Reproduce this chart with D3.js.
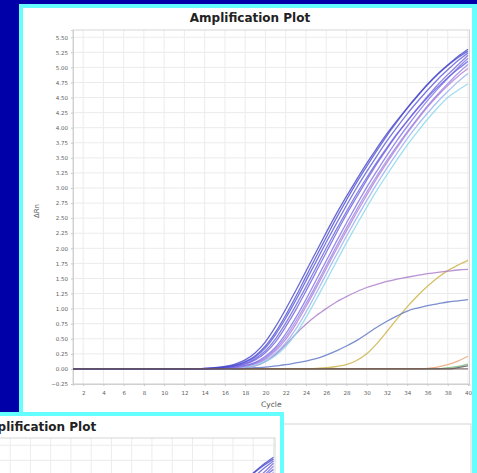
<!DOCTYPE html>
<html>
<head>
<meta charset="utf-8">
<script src="https://cdn.jsdelivr.net/npm/d3@7"></script>
<style>
  html, body { margin: 0; padding: 0; background: #0000a8; overflow: hidden; }
  text { font-family: "DejaVu Sans", Arial, sans-serif; }
</style>
</head>
<body>
<svg id="chart" width="477" height="473"></svg>
<script>
// cycle numbers and tick labels
var cycles = [1,2,3,4,5,6,7,8,9,10,11,12,13,14,15,16,17,18,19,20,
              21,22,23,24,25,26,27,28,29,30,31,32,33,34,35,36,37,38,39,40];
var xTicks = [2,4,6,8,10,12,14,16,18,20,22,24,26,28,30,32,34,36,38,40];
var yTicks = [-0.25,0,0.25,0.5,0.75,1,1.25,1.5,1.75,2,2.25,2.5,2.75,3,3.25,
              3.5,3.75,4,4.25,4.5,4.75,5,5.25,5.5];

// delta Rn per cycle
var wellA = [0,0,0,0,0,0,0,0,0,0,0,0,0,0.01,0.02,0.04,0.08,0.15,0.27,0.45,0.70,0.99,1.30,1.62,1.94,2.26,2.57,2.86,3.14,3.41,3.66,3.90,4.12,4.33,4.53,4.72,4.89,5.04,5.18,5.30];
var wellB = [0,0,0,0,0,0,0,0,0,0,0,0,0,0,0.01,0.03,0.06,0.11,0.20,0.35,0.57,0.84,1.14,1.46,1.78,2.10,2.41,2.71,3.00,3.27,3.53,3.78,4.01,4.23,4.43,4.62,4.80,4.96,5.11,5.24];
var wellC = [0,0,0,0,0,0,0,0,0,0,0,0,0,0,0.01,0.02,0.04,0.08,0.15,0.27,0.45,0.70,0.98,1.29,1.61,1.93,2.25,2.56,2.85,3.13,3.40,3.65,3.89,4.11,4.32,4.52,4.71,4.88,5.04,5.20];
var wellD = [0,0,0,0,0,0,0,0,0,0,0,0,0,0,0,0.01,0.03,0.06,0.11,0.21,0.36,0.58,0.85,1.15,1.47,1.79,2.11,2.42,2.72,3.01,3.28,3.54,3.79,4.02,4.24,4.45,4.64,4.82,4.99,5.15];
var wellE = [0,0,0,0,0,0,0,0,0,0,0,0,0,0.01,0.02,0.03,0.06,0.12,0.22,0.38,0.61,0.89,1.20,1.53,1.86,2.18,2.50,2.80,3.09,3.36,3.62,3.87,4.10,4.32,4.52,4.71,4.88,5.03,5.16,5.27];
var wellF = [0,0,0,0,0,0,0,0,0,0,0,0,0,0,0,0.01,0.02,0.05,0.09,0.17,0.30,0.49,0.74,1.03,1.34,1.66,1.98,2.29,2.59,2.88,3.16,3.42,3.67,3.91,4.13,4.34,4.53,4.70,4.85,4.98];
var wellG = [0,0,0,0,0,0,0,0,0,0,0,0,0,0,0,0.01,0.02,0.04,0.08,0.15,0.26,0.43,0.66,0.94,1.25,1.57,1.89,2.20,2.50,2.79,3.07,3.33,3.58,3.82,4.04,4.24,4.43,4.60,4.76,4.90];
var wellH = [0,0,0,0,0,0,0,0,0,0,0,0,0,0,0,0,0.01,0.03,0.06,0.12,0.22,0.37,0.58,0.85,1.15,1.46,1.78,2.09,2.39,2.68,2.96,3.22,3.47,3.71,3.93,4.14,4.33,4.50,4.62,4.73];
var wellI = [0,0,0,0,0,0,0,0,0,0,0,0,0,0,0.01,0.02,0.05,0.09,0.17,0.30,0.50,0.76,1.05,1.36,1.68,2.00,2.31,2.61,2.90,3.17,3.43,3.67,3.90,4.11,4.31,4.50,4.67,4.83,4.97,5.10];
var wellJ = [0,0,0,0,0,0,0,0,0,0,0,0,0,0,0,0.01,0.02,0.05,0.10,0.19,0.33,0.53,0.79,1.08,1.39,1.71,2.03,2.34,2.64,2.93,3.20,3.46,3.70,3.93,4.15,4.36,4.55,4.73,4.90,5.05];
var wellMauve = [0,0,0,0,0,0,0,0,0,0,0,0,0,0,0,0,0,0.02,0.05,0.12,0.24,0.40,0.58,0.74,0.88,1.00,1.11,1.20,1.28,1.35,1.40,1.45,1.49,1.52,1.55,1.58,1.60,1.62,1.64,1.65];
var wellSteel = [0,0,0,0,0,0,0,0,0,0,0,0,0,0,0,0,0,0.01,0.02,0.03,0.05,0.07,0.10,0.13,0.17,0.23,0.30,0.38,0.47,0.58,0.69,0.79,0.88,0.96,1.01,1.05,1.08,1.11,1.13,1.15];
var wellGold = [0,0,0,0,0,0,0,0,0,0,0,0,0,0,0,0,0,0,0,0,0,0,0,0,0.01,0.02,0.04,0.07,0.14,0.25,0.42,0.62,0.83,1.03,1.21,1.37,1.51,1.63,1.72,1.80];
var wellOrange = [0,0,0,0,0,0,0,0,0,0,0,0,0,0,0,0,0,0,0,0,0,0,0,0,0,0,0,0,0,0,0,0,0,0,0,0.01,0.03,0.07,0.13,0.21];
var wellGreen = [0,0,0,0,0,0,0,0,0,0,0,0,0,0,0,0,0,0,0,0,0,0,0,0,0,0,0,0,0,0,0,0,0,0,0,0,0,0.02,0.04,0.08];
var wellDark = [0,0,0,0,0,0,0,0,0,0,0,0,0,0,0,0,0,0,0,0,0,0,0,0,0,0,0,0,0,0,0,0,0,0,0,0,0,0,0.02,0.05];
var wellNtc = [0,0,0,0,0,0,0,0,0,0,0,0,0,0,0,0,0,0,0,0,0,0,0,0,0,0,0,0,0,0,0,0,0,0,0,0,0,0,0,0];

var wells = [wellGreen, wellOrange, wellGold, wellSteel, wellMauve,
             wellH, wellG, wellF, wellJ, wellD, wellI, wellC, wellB, wellE, wellA, wellDark, wellNtc];
var wellColors = ["#78b878", "#e8a070", "#c9b040", "#5a72c4", "#a878c8",
                  "#88d4ea", "#94aef2", "#b47ad8", "#9484e6", "#7e70e8", "#6464e0", "#7060dc", "#5a56d8", "#4e4ed4", "#4444c8", "#555555", "#6e5252"];

var svg = d3.select("#chart");

function drawChart(g, L) {
  var x = d3.scaleLinear().domain([1, 40.15]).range([L.left, L.right]);
  var y = d3.scaleLinear().domain([-0.25, 5.62]).range([L.bottom, L.top]);

  g.append("rect")
    .attr("x", L.left).attr("y", L.top)
    .attr("width", L.right - L.left).attr("height", L.bottom - L.top)
    .attr("fill", "#fff");

  // grid
  g.selectAll(".hgrid").data(yTicks).enter().append("line")
    .attr("x1", L.left).attr("x2", L.right)
    .attr("y1", function(d) { return y(d); }).attr("y2", function(d) { return y(d); })
    .attr("stroke", "#ebebeb").attr("stroke-width", 1);
  g.selectAll(".vgrid").data(xTicks).enter().append("line")
    .attr("y1", L.top).attr("y2", L.bottom)
    .attr("x1", function(d) { return x(d); }).attr("x2", function(d) { return x(d); })
    .attr("stroke", "#ececec").attr("stroke-width", 1);

  g.append("rect")
    .attr("x", L.left).attr("y", L.top)
    .attr("width", L.right - L.left).attr("height", L.bottom - L.top)
    .attr("fill", "none").attr("stroke", "#d6d6d6");

  if (L.axes) {
    var yAxis = g.append("g")
      .attr("transform", "translate(" + L.left + ",0)")
      .call(d3.axisLeft(y).tickValues(yTicks).tickFormat(d3.format(".2f")).tickSize(2).tickPadding(3));
    var xAxis = g.append("g")
      .attr("transform", "translate(0," + L.bottom + ")")
      .call(d3.axisBottom(x).tickValues(xTicks).tickSize(2).tickPadding(5));
    [yAxis, xAxis].forEach(function(a) {
      a.select(".domain").attr("stroke", "#d0d0d0");
      a.selectAll(".tick line").attr("stroke", "#c8c8c8");
      a.selectAll("text").attr("fill", "#5e5e5e").style("font-size", "5.5px")
        .style("font-family", "DejaVu Sans, sans-serif");
    });

    g.append("text")
      .attr("transform", "translate(" + (L.left - 34) + "," + ((L.top + L.bottom) / 2 + 4) + ") rotate(-90)")
      .attr("text-anchor", "middle")
      .style("font-size", "7px").attr("fill", "#555")
      .text("ΔRn");

    g.append("text")
      .attr("x", (L.left + L.right) / 2).attr("y", L.bottom + 23)
      .attr("text-anchor", "middle")
      .style("font-size", "7.5px").attr("fill", "#555")
      .text("Cycle");
  }

  var line = d3.line()
    .x(function(d, i) { return x(cycles[i]); })
    .y(function(d) { return y(d); })
    .curve(d3.curveMonotoneX);

  g.selectAll(".well").data(wells).enter().append("path")
    .attr("d", line)
    .attr("fill", "none")
    .attr("stroke", function(d, i) { return wellColors[i]; })
    .attr("stroke-width", 1.3)
    .attr("stroke-opacity", 0.8);

  g.append("text")
    .attr("x", L.titleX).attr("y", L.titleY)
    .attr("text-anchor", "middle")
    .style("font-size", "12px").style("font-weight", "bold")
    .attr("fill", "#222")
    .text("Amplification Plot");
}

// top window
svg.append("rect").attr("x", 19).attr("y", 4).attr("width", 470).attr("height", 500).attr("fill", "#66ffff");
svg.append("rect").attr("x", 23).attr("y", 8).attr("width", 449).attr("height", 500).attr("fill", "#fff");
svg.append("rect").attr("x", 200).attr("y", 424).attr("width", 271).attr("height", 80)
  .attr("fill", "#fff").attr("stroke", "#d4d4d4");
drawChart(svg.append("g"), { left: 73, right: 469.5, top: 30, bottom: 384, titleX: 250, titleY: 22, axes: true });

// second window, lower left (same plot, mostly off screen)
svg.append("defs").append("clipPath").attr("id", "clip2")
  .append("rect").attr("x", -10).attr("y", 416).attr("width", 290).attr("height", 80);
svg.append("rect").attr("x", -10).attr("y", 412).attr("width", 294).attr("height", 100).attr("fill", "#66ffff");
var g2 = svg.append("g").attr("clip-path", "url(#clip2)");
g2.append("rect").attr("x", -10).attr("y", 416).attr("width", 290).attr("height", 80).attr("fill", "#fff");
drawChart(g2.append("g"), { left: -121.5, right: 275, top: 438, bottom: 792, titleX: 36, titleY: 431, axes: false });
</script>
</body>
</html>
